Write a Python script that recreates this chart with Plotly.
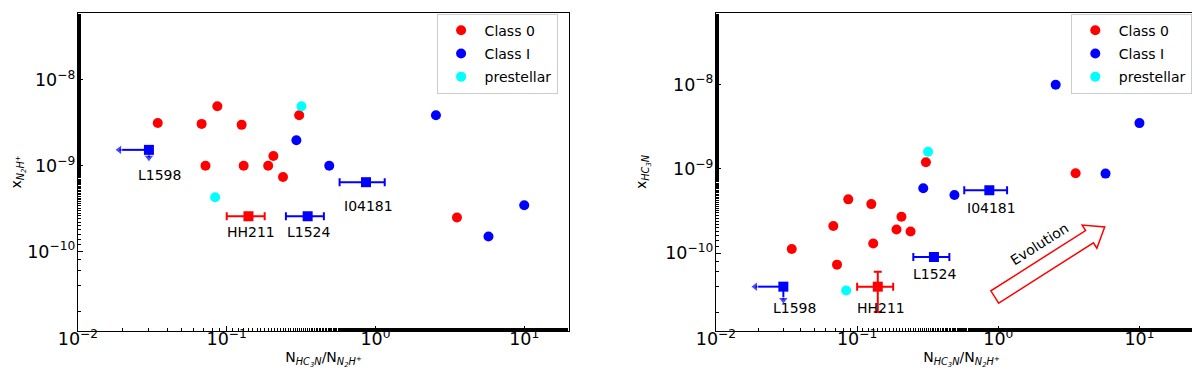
import math
import plotly.graph_objects as go

# N(HC3N)/N(N2H+) ratio, shared by both panels
x_class0 = [0.0344, 0.0678, 0.0865, 0.126, 0.307, 0.072, 0.130, 0.190, 0.206, 0.239, 3.53]
n2h_class0 = [3.15e-9, 3.07e-9, 4.93e-9, 2.99e-9, 3.87e-9, 1.0e-9, 1.0e-9, 1.0e-9, 1.30e-9, 7.4e-10, 2.49e-10]
hc3n_class0 = [1.12e-10, 2.1e-10, 4.35e-10, 3.82e-10, 1.2e-9, 7.3e-11, 1.30e-10, 1.91e-10, 2.7e-10, 1.81e-10, 8.9e-10]

x_class1 = [0.294, 0.489, 2.55, 10.0, 5.75]
n2h_class1 = [1.98e-9, 1.0e-9, 3.87e-9, 3.47e-10, 1.5e-10]
hc3n_class1 = [5.9e-10, 4.89e-10, 1.0e-8, 3.5e-9, 8.8e-10]

x_pre = [0.318, 0.0836]
n2h_pre = [4.93e-9, 4.3e-10]
hc3n_pre = [1.6e-9, 3.6e-11]

# named sources (squares)
src_names = ["HH211", "L1524", "I04181", "L1598"]
src_x = [0.14, 0.35, 0.864, 0.03]
src_xerr = [0.04, 0.10, 0.29, 0.0]
src_n2h = [2.58e-10, 2.58e-10, 6.43e-10, 1.53e-9]
src_hc3n = [4.0e-11, 9.0e-11, 5.6e-10, 4.0e-11]
src_hc3n_err = [2e-11, 0.0, 0.0, 0.0]
src_colors = ["red", "blue", "blue", "blue"]

# L1598 upper limits (arrow ends)
l1598_x_lim = 0.019
l1598_n2h_lim = 1.25e-9
l1598_hc3n_lim = 2.8e-11

# tick values and labels
x_ticks = [0.01, 0.1, 1, 10]
x_ticktext = ["10<sup>−2</sup>", "10<sup>−1</sup>", "10<sup>0</sup>", "10<sup>1</sup>"]
y_ticks = [1e-10, 1e-9, 1e-8]
y_ticktext = ["10<sup>−10</sup>", "10<sup>−9</sup>", "10<sup>−8</sup>"]

# label offsets in pixels (dx, dy) per panel
label_shift_left = [(3, -16), (1, -16), (2, -24), (11, -25)]
label_shift_right = [(3, -21), (1, -17), (2, -18), (11, -21)]

FONT = "DejaVu Sans"
fig = go.Figure()

panels = [
    ("x", "y", n2h_class0, n2h_class1, n2h_pre, src_n2h, [0.0] * 4, l1598_n2h_lim, label_shift_left, "legend"),
    ("x2", "y2", hc3n_class0, hc3n_class1, hc3n_pre, src_hc3n, src_hc3n_err, l1598_hc3n_lim, label_shift_right, "legend2"),
]

for xa, ya, y0, y1, yp, ys, yserr, ylim, shifts, leg in panels:
    for xs, yv, col, nm in [(x_class0, y0, "red", "Class 0"), (x_class1, y1, "blue", "Class I"),
                            (x_pre, yp, "cyan", "prestellar")]:
        fig.add_trace(go.Scatter(x=xs, y=yv, mode="markers", name=nm, legend=leg,
                                 legendgroup=leg + nm,
                                 marker=dict(color=col, size=10, line=dict(width=0)),
                                 xaxis=xa, yaxis=ya))
    # L1598 limit arrows
    i = 3
    fig.add_trace(go.Scatter(x=[src_x[i], l1598_x_lim], y=[ys[i], ys[i]], mode="lines+markers",
                             line=dict(color="blue", width=2), showlegend=False,
                             marker=dict(symbol="triangle-left", size=[0, 9], color="blue"),
                             xaxis=xa, yaxis=ya))
    fig.add_trace(go.Scatter(x=[src_x[i], src_x[i]], y=[ys[i], ylim], mode="lines+markers",
                             line=dict(color="blue", width=2), showlegend=False,
                             marker=dict(symbol="triangle-down", size=[0, 9], color="blue"),
                             xaxis=xa, yaxis=ya))
    for i, nm in enumerate(src_names):
        fig.add_trace(go.Scatter(
            x=[src_x[i]], y=[ys[i]], mode="markers", showlegend=False,
            marker=dict(symbol="square", size=10, color=src_colors[i]),
            error_x=dict(type="data", array=[src_xerr[i]], visible=src_xerr[i] > 0,
                         color=src_colors[i], thickness=2, width=4),
            error_y=dict(type="data", array=[yserr[i]], visible=yserr[i] > 0,
                         color=src_colors[i], thickness=2, width=4),
            xaxis=xa, yaxis=ya))
        fig.add_annotation(x=math.log10(src_x[i]), y=math.log10(ys[i]), xref=xa, yref=ya,
                           text=nm, showarrow=False, xshift=shifts[i][0], yshift=shifts[i][1],
                           font=dict(family=FONT, size=14, color="black"))

# hollow "Evolution" arrow in the right panel (pixel geometry -> domain)
W2, H2 = 491.0, 318.0
tail = (0.568 * W2, 0.107 * H2)
tip = (0.792 * W2, 0.327 * H2)
ang = math.atan2(tip[1] - tail[1], tip[0] - tail[0])
L = math.hypot(tip[0] - tail[0], tip[1] - tail[1])
ux, uy = math.cos(ang), math.sin(ang)
nx, ny = -uy, ux
hw, hh, hl = 7.3, 13.7, 18.0
pts = []
for s, w in [(0, -hw), (L - hl, -hw), (L - hl, -hh), (L, 0), (L - hl, hh), (L - hl, hw), (0, hw)]:
    px = tail[0] + ux * s + nx * w
    py = tail[1] + uy * s + ny * w
    pts.append((px / W2, py / H2))
path = "M " + " L ".join(f"{a:.4f},{b:.4f}" for a, b in pts) + " Z"
fig.add_shape(type="path", path=path, xref="x2 domain", yref="y2 domain",
              line=dict(color="red", width=1.5), fillcolor="rgba(0,0,0,0)")
fig.add_annotation(x=0.659, y=0.188, xref="x2 domain", yref="y2 domain", text="Evolution",
                   textangle=-math.degrees(ang), showarrow=False,
                   font=dict(family=FONT, size=14, color="black"))

# plotly shrinks array tick labels on log axes, so ask for a larger size
axis_common = dict(type="log", showline=True, linecolor="black", linewidth=1.3, mirror=True,
                   ticks="inside", ticklen=5, tickwidth=1, tickcolor="black",
                   showgrid=False, zeroline=False,
                   minor=dict(ticks="inside", ticklen=3, tickcolor="black", showgrid=False),
                   tickfont=dict(family=FONT, size=17.5, color="black"))
x_common = dict(axis_common, tickvals=x_ticks, ticktext=x_ticktext, ticklabelstandoff=-8)
y_common = dict(axis_common, tickvals=y_ticks, ticktext=y_ticktext, ticklabelstandoff=-2)

xtitle = "N<sub><i>HC<sub>3</sub>N</i></sub>/N<sub><i>N<sub>2</sub>H<sup>+</sup></i></sub>"
legend_style = dict(yanchor="top", xanchor="right", bgcolor="white", bordercolor="#cccccc",
                    borderwidth=1, font=dict(family=FONT, size=14),
                    itemwidth=37, tracegroupgap=2, traceorder="grouped")
fig.update_layout(
    width=1200, height=371, template="none",
    paper_bgcolor="white", plot_bgcolor="white",
    margin=dict(l=0, r=0, t=5, b=48),
    font=dict(family=FONT, size=14, color="black"),
    xaxis=dict(x_common, domain=[0.0583, 0.4675], range=[-2, math.log10(20)], anchor="y",
               title=dict(text=xtitle, font=dict(size=14), standoff=0)),
    yaxis=dict(y_common, domain=[0, 1], range=[math.log10(1.19e-11), math.log10(6e-8)], anchor="x",
               title=dict(text="x<sub><i>N<sub>2</sub>H<sup>+</sup></i></sub>", font=dict(size=14), standoff=9)),
    xaxis2=dict(x_common, domain=[0.59, 0.999], range=[-2, math.log10(30)], anchor="y2",
                title=dict(text=xtitle, font=dict(size=14), standoff=0)),
    yaxis2=dict(y_common, domain=[0, 1], range=[math.log10(1.19e-11), math.log10(7.1e-8)], anchor="x2",
                title=dict(text="x<sub><i>HC<sub>3</sub>N</i></sub>", font=dict(size=14), standoff=15)),
    legend=dict(legend_style, x=0.458, y=0.998),
    legend2=dict(legend_style, x=0.9865, y=0.998),
)

fig.write_html("out.html")
